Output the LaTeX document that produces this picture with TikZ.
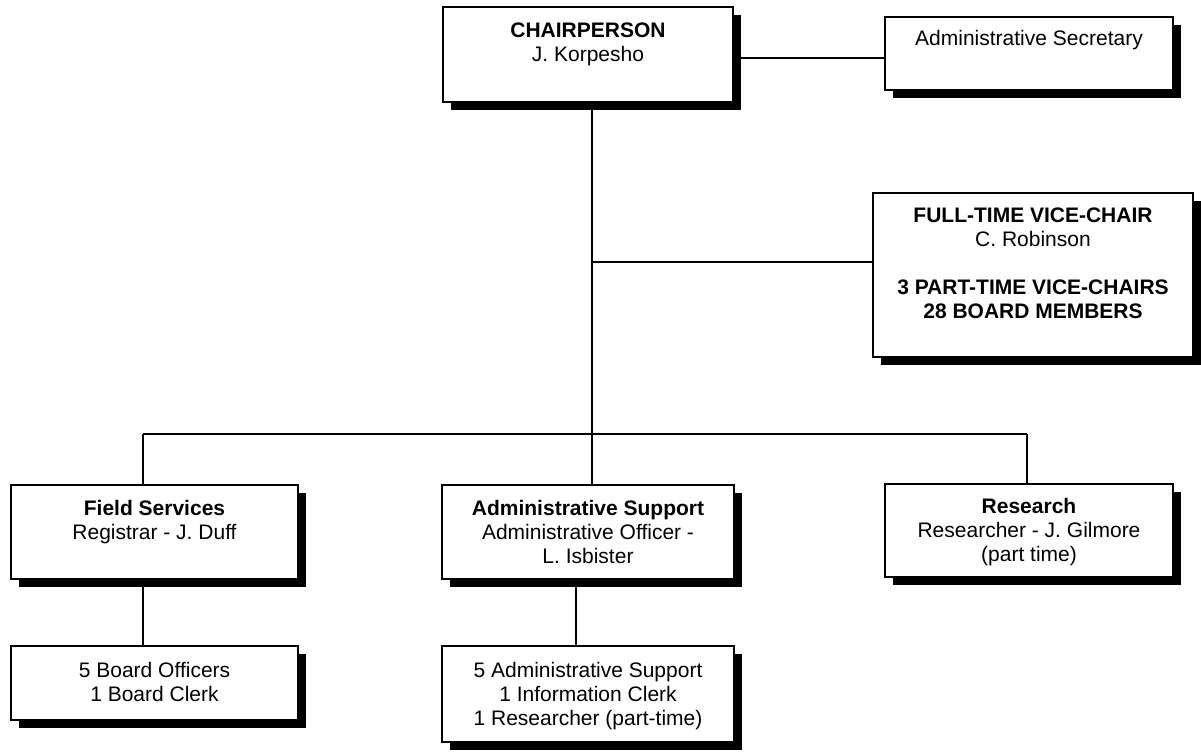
\documentclass[tikz,border=0pt]{standalone}
\usepackage{fontspec}
\setmainfont{Liberation Sans}
\usetikzlibrary{shadows}
\tikzset{
  box/.style={draw=black, line width=1.5pt, fill=white, rectangle, inner sep=0pt,
    drop shadow={shadow xshift=8pt, shadow yshift=-8pt, fill=black, opacity=1}},
  label/.style={anchor=north, inner sep=0pt, align=center,
    font=\fontsize{21}{24}\selectfont},
  conn/.style={draw=black, line width=1.5pt}
}
\newcommand{\fl}{\rule{0pt}{20pt}}
\begin{document}
\begin{tikzpicture}[x=1pt,y=-1pt]
\useasboundingbox (0,0) rectangle (1201,752);
% coordinates for connectors
\coordinate (trunk) at (592,0);
\coordinate (bus) at (0,434);
\coordinate (busL) at (143,434);
\coordinate (busR) at (1027,434);
\coordinate (fieldx) at (143,0);
\coordinate (admx) at (576,0);
% connectors (drawn under boxes)
\draw[conn] (busL) -- (busR);
% boxes
\node[box, minimum width=290pt, minimum height=95pt] (chair) at (588,54.5) {};
\node[box, minimum width=288pt, minimum height=73pt] (sec) at (1029,53.5) {};
\node[box, minimum width=320pt, minimum height=164pt] (vice) at (1033,275) {};
\node[box, minimum width=287pt, minimum height=94pt] (field) at (154.5,532) {};
\node[box, minimum width=292pt, minimum height=94pt] (admsup) at (588,532) {};
\node[box, minimum width=288pt, minimum height=93pt] (research) at (1029,530.5) {};
\node[box, minimum width=287pt, minimum height=74pt] (board) at (154.5,683) {};
\node[box, minimum width=292pt, minimum height=96pt] (staff) at (588,694) {};
% connectors between boxes
\draw[conn] (chair.east |- 0,58) -- (sec.west |- 0,58);
\draw[conn] (trunk |- chair.south) -- (trunk |- bus);
\draw[conn] (trunk |- 0,262) -- (vice.west |- 0,262);
\draw[conn] (busL) -- (busL |- field.north);
\draw[conn] (trunk |- bus) -- (trunk |- admsup.north);
\draw[conn] (busR) -- (busR |- research.north);
\draw[conn] (fieldx |- field.south) -- (fieldx |- board.north);
\draw[conn] (admx |- admsup.south) -- (admx |- staff.north);
% texts
\node[label] (chairT) at (588,17) {\fl\textbf{CHAIRPERSON}\\J. Korpesho};
\node[label] (secT) at (1029,25) {\fl Administrative Secretary};
\node[label] (viceT) at (1033,202) {\fl\textbf{FULL-TIME VICE-CHAIR}\\C. Robinson\\[24pt]\textbf{3 PART-TIME VICE-CHAIRS}\\\textbf{28 BOARD MEMBERS}};
\node[label] (fieldT) at (154.5,495) {\fl\textbf{Field Services}\\Registrar - J. Duff};
\node[label] (admsupT) at (588,495) {\fl\textbf{Administrative Support}\\Administrative Officer -\\L. Isbister};
\node[label] (researchT) at (1029,493) {\fl\textbf{Research}\\Researcher - J. Gilmore\\(part time)};
\node[label] (boardT) at (154.5,657) {\fl 5 Board Officers\\1 Board Clerk};
\node[label] (staffT) at (588,657) {\fl 5 Administrative Support\\1 Information Clerk\\1 Researcher (part-time)};
\end{tikzpicture}
\end{document}
